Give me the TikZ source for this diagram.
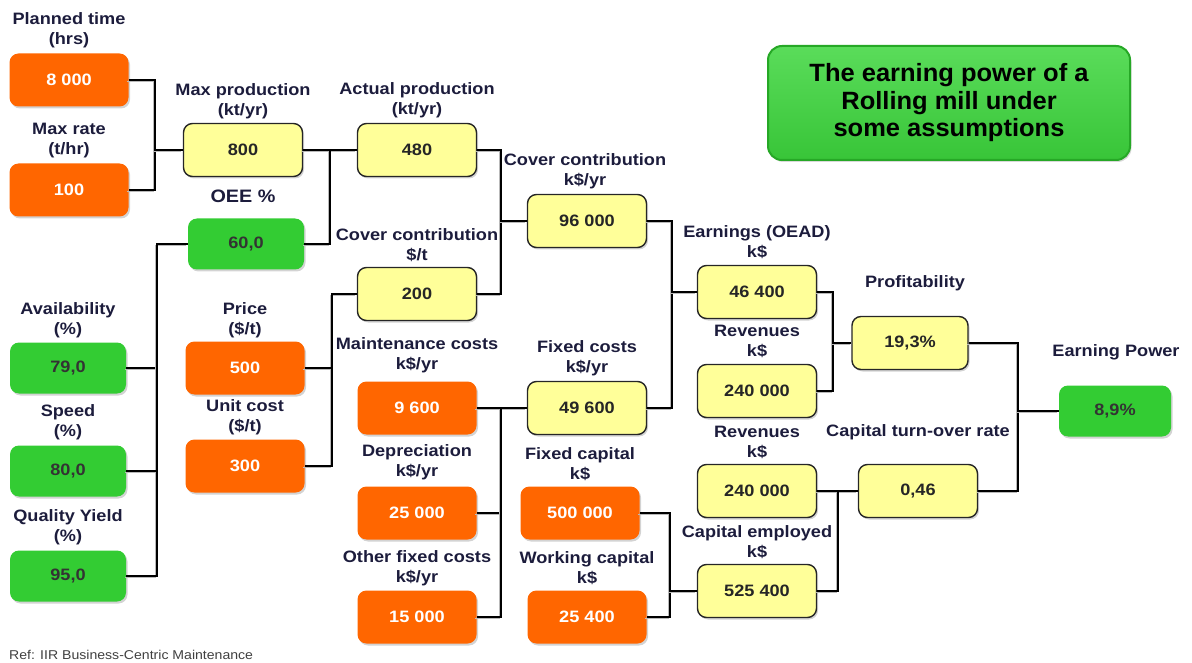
\documentclass[tikz,border=0pt]{standalone}
\usepackage{fontspec}
\setmainfont{Liberation Sans}[FakeStretch=1.1]
\newfontfamily\titlefont{Liberation Sans}[FakeStretch=1.02]
\usetikzlibrary{shadows}
\definecolor{boxyellow}{HTML}{FFFF99}
\definecolor{boxorange}{HTML}{FF6600}
\definecolor{boxgreen}{HTML}{33CC33}
\definecolor{titlegreen}{HTML}{3DD63D}
\definecolor{titleedge}{HTML}{26A826}
\definecolor{labelink}{HTML}{1C1C3C}
\begin{document}
\begin{tikzpicture}[x=1pt,y=-1pt,
  base/.style={rounded corners=9pt, minimum width=119pt, minimum height=53pt,
    inner sep=0pt, font=\fontsize{16.5}{17}\selectfont\bfseries,
    drop shadow={shadow xshift=1.5pt, shadow yshift=-2pt, opacity=0.35}},
  calcbox/.style={base, fill=boxyellow, draw=black!85, line width=1.4pt, text=black!85},
  inputbox/.style={base, fill=boxorange, text=white},
  ratiobox/.style={base, fill=boxgreen, text=black!80, minimum width=116pt, minimum height=51pt},
  lbl/.style={align=center, text=labelink, inner sep=0pt,
    font=\fontsize{16.5}{20}\selectfont\bfseries},
  wire/.style={line width=1.6pt, draw=black, line join=miter,
    preaction={draw=gray!55, line width=1.6pt,
      transform canvas={shift={(-1.4pt,-1.4pt)}}}}]
\useasboundingbox (0,0) rectangle (1192,663);

% title
\node[rounded corners=14pt, minimum width=362pt, minimum height=114pt,
  top color=titlegreen!85!white, bottom color=titlegreen!92!black,
  draw=titleedge, line width=2pt, align=center,
  font=\titlefont\fontsize{25}{27.5}\selectfont\bfseries,
  drop shadow={shadow xshift=1.5pt, shadow yshift=-2pt, opacity=0.3}]
  (title) at (949,103) {The earning power of a\\Rolling mill under\\some assumptions};

% inputs and results
\node[inputbox] (pt) at (69,80) {8 000};
\node[inputbox] (mr) at (69,190) {100};
\node[calcbox] (mp) at (243,150) {800};
\node[ratiobox] (oee) at (246,244) {60,0};
\node[calcbox] (ap) at (417,150) {480};
\node[calcbox] (ccs) at (417,294) {200};
\node[calcbox] (ccy) at (587,221) {96 000};
\node[inputbox] (pr) at (245,368) {500};
\node[inputbox] (uc) at (245,466) {300};
\node[ratiobox] (av) at (68,368) {79,0};
\node[ratiobox] (sp) at (68,471) {80,0};
\node[ratiobox] (qy) at (68,576) {95,0};
\node[inputbox] (mc) at (417,408) {9 600};
\node[inputbox] (dp) at (417,513) {25 000};
\node[inputbox] (of) at (417,617) {15 000};
\node[calcbox] (fc) at (587,408) {49 600};
\node[inputbox] (fk) at (580,513) {500 000};
\node[inputbox] (wc) at (587,617) {25 400};
\node[calcbox] (ea) at (757,292) {46 400};
\node[calcbox] (rv1) at (757,391) {240 000};
\node[calcbox] (rv2) at (757,491) {240 000};
\node[calcbox] (ce) at (757,591) {525 400};
\node[calcbox, minimum width=116pt] (pf) at (910,343) {19,3\%};
\node[calcbox] (ct) at (918,491) {0,46};
\node[ratiobox, minimum width=112pt] (ep) at (1115,411) {8,9\%};

% captions
\node[lbl] (lpt) at (69,30) {Planned time\\(hrs)};
\node[lbl] (lmr) at (69,141) {Max rate\\(t/hr)};
\node[lbl] (lmp) at (243,101) {Max production\\(kt/yr)};
\node[lbl, font=\fontsize{18}{20}\selectfont\bfseries] (loee) at (243,196) {OEE \%};
\node[lbl] (lap) at (417,100) {Actual production\\(kt/yr)};
\node[lbl] (lccs) at (417,245) {Cover contribution\\\$/t};
\node[lbl] (lccy) at (585,171) {Cover contribution\\k\$/yr};
\node[lbl] (lpr) at (245,320) {Price\\(\$/t)};
\node[lbl] (luc) at (245,417) {Unit cost\\(\$/t)};
\node[lbl] (lav) at (68,320) {Availability\\(\%)};
\node[lbl] (lsp) at (68,422) {Speed\\(\%)};
\node[lbl] (lqy) at (68,527) {Quality Yield\\(\%)};
\node[lbl] (lmc) at (417,355) {Maintenance costs\\k\$/yr};
\node[lbl] (ldp) at (417,462) {Depreciation\\k\$/yr};
\node[lbl] (lof) at (417,568) {Other fixed costs\\k\$/yr};
\node[lbl] (lfc) at (587,358) {Fixed costs\\k\$/yr};
\node[lbl] (lfk) at (580,464) {Fixed capital\\k\$};
\node[lbl] (lwc) at (587,568) {Working capital\\k\$};
\node[lbl] (lea) at (757,242) {Earnings (OEAD)\\k\$};
\node[lbl] (lrv1) at (757,341) {Revenues\\k\$};
\node[lbl] (lrv2) at (757,442) {Revenues\\k\$};
\node[lbl] (lce) at (757,542) {Capital employed\\k\$};
\node[lbl] (lpf) at (915,283) {Profitability};
\node[lbl] (lct) at (918,432) {Capital turn-over rate};
\node[lbl] (lep) at (1116,352) {Earning Power};

\node[anchor=west, inner sep=0pt, text=black!75, font=\fontsize{12.8}{14}\selectfont]
  (ref) at (9,655) {Ref: IIR Business-Centric Maintenance};

% junction points
\coordinate (j1) at (155,150);
\coordinate (j2) at (330,150);
\coordinate (j3) at (157,244);
\coordinate (j4) at (332,294);
\coordinate (j5) at (501,221);
\coordinate (j6) at (672,292);
\coordinate (j7) at (501,408);
\coordinate (j8) at (670,591);
\coordinate (j9) at (833,343);
\coordinate (j10) at (838,491);
\coordinate (j11) at (1018,411);

% connectors
\draw[wire] (pt.east) -| (j1) |- (mr.east);
\draw[wire] (j1) -- (mp.west);
\draw[wire] (mp.east) -- (ap.west);
\draw[wire] (oee.east) -| (j2);
\draw[wire] (oee.west) -- (j3) |- (qy.east);
\draw[wire] (av.east) -| (j3);
\draw[wire] (sp.east) -| (j3);
\draw[wire] (ccs.west) -- (j4) |- (uc.east);
\draw[wire] (pr.east) -| (j4);
\draw[wire] (ap.east) -| (j5) |- (ccs.east);
\draw[wire] (j5) -- (ccy.west);
\draw[wire] (ccy.east) -| (j6) |- (fc.east);
\draw[wire] (j6) -- (ea.west);
\draw[wire] (mc.east) -- (fc.west);
\draw[wire] (dp.east) -| (j7);
\draw[wire] (of.east) -| (j7);
\draw[wire] (fk.east) -| (j8) |- (wc.east);
\draw[wire] (j8) -- (ce.west);
\draw[wire] (ea.east) -| (j9) |- (rv1.east);
\draw[wire] (j9) -- (pf.west);
\draw[wire] (rv2.east) -- (ct.west);
\draw[wire] (ce.east) -| (j10);
\draw[wire] (pf.east) -| (j11) |- (ct.east);
\draw[wire] (j11) -- (ep.west);
\end{tikzpicture}
\end{document}
